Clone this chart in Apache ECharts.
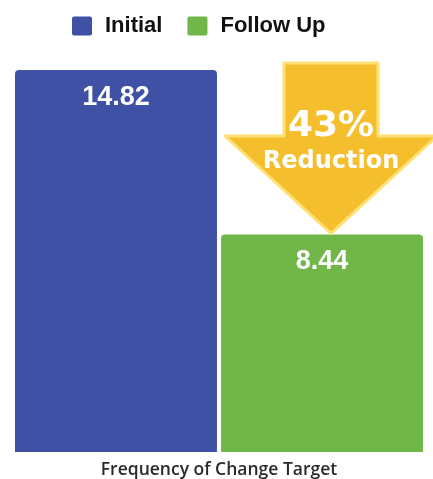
<!DOCTYPE html>
<html><head><meta charset="utf-8">
<script src="https://cdn.jsdelivr.net/npm/echarts@6/dist/echarts.min.js"></script>
<style>html,body{margin:0;padding:0;background:#fff}#c{width:433px;height:479px}</style>
</head><body><div id="c"></div>
<script>
const categories = ['Frequency of Change Target'];
const seriesNames = ['Initial', 'Follow Up'];
const initialValues = [14.82];
const followUpValues = [8.44];
const reductionText = ['43%', 'Reduction'];

const chart = echarts.init(document.getElementById('c'), null, {renderer: 'canvas'});
const labelStyle = {show: true, position: 'insideTop', distance: 14, color: '#fff',
  fontFamily: 'Liberation Sans', fontWeight: 'bold', fontSize: 27,
  formatter: p => p.value.toFixed(2)};
chart.setOption({
  animation: false,
  legend: {top: 10, left: 67, itemWidth: 20, itemHeight: 19, itemGap: 25,
    icon: 'path://M2,0 H18 Q20,0 20,2 V17 Q20,19 18,19 H2 Q0,19 0,17 V2 Q0,0 2,0 Z',
    textStyle: {fontFamily: 'Liberation Sans', fontWeight: 'bold', fontSize: 22, color: '#111', padding: [0, 0, 0, 8]}},
  grid: {left: 15, right: 10, top: 70, bottom: 27, containLabel: false},
  xAxis: {type: 'category', data: categories, axisLine: {show: false}, axisTick: {show: false},
    axisLabel: {margin: 9, fontFamily: 'Open Sans', fontWeight: 600, fontSize: 17.5, color: '#2a2a2a'}},
  yAxis: {type: 'value', min: 0, max: 14.82, show: false, splitLine: {show: false}},
  series: [
    {name: seriesNames[0], type: 'bar', data: initialValues, barGap: '2%', barCategoryGap: 0,
      itemStyle: {color: '#3F51A5', borderRadius: [4, 4, 0, 0]}, label: labelStyle},
    {name: seriesNames[1], type: 'bar', data: followUpValues,
      itemStyle: {color: '#70B648', borderRadius: [4, 4, 0, 0]}, label: labelStyle}
  ]
});

// Arrow annotation, tip anchored at the top of the Follow Up bar
const tipY = chart.convertToPixel({yAxisIndex: 0}, followUpValues[0]) - 1;
const cx = 331;
const shaftTop = 63, headBase = 136;
chart.setOption({
  graphic: [
    {type: 'polygon', z: 100,
      shape: {points: [[cx - 47, shaftTop], [cx + 47, shaftTop], [cx + 47, headBase], [cx + 106, headBase],
        [cx, tipY], [cx - 106, headBase], [cx - 47, headBase]]},
      style: {fill: '#F4BE2C', stroke: '#FFE074', lineWidth: 3, lineJoin: 'round'}},
    {type: 'text', z: 101, x: cx, y: 127,
      style: {text: reductionText[0], fill: '#fff', font: 'bold 36px "DejaVu Sans"', align: 'center', verticalAlign: 'middle'}},
    {type: 'text', z: 101, x: cx, y: 162,
      style: {text: reductionText[1], fill: '#fff', font: 'bold 24px "DejaVu Sans"', align: 'center', verticalAlign: 'middle'}}
  ]
});
</script></body></html>
